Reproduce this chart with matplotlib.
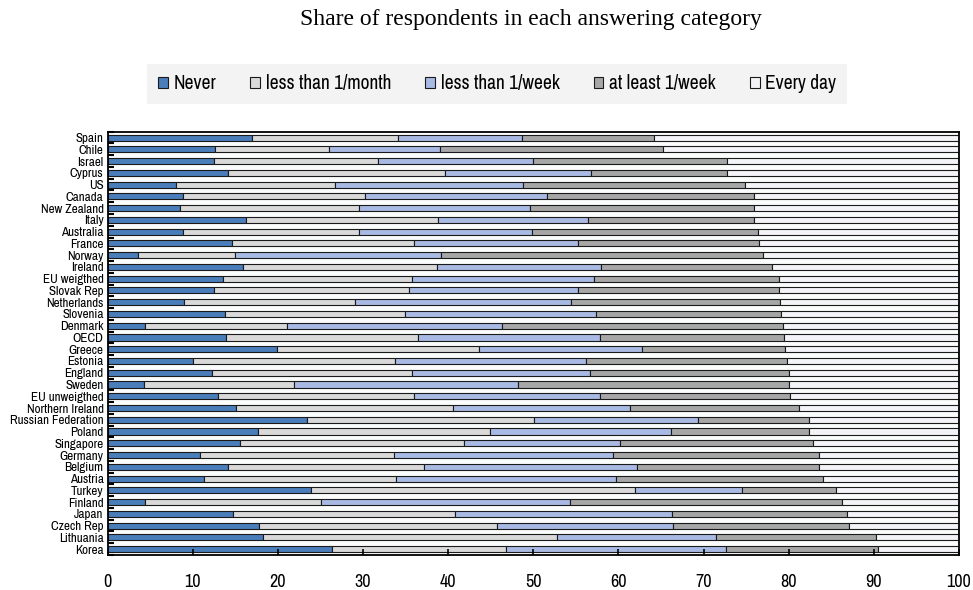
import numpy as np
import matplotlib
matplotlib.use('Agg')
from matplotlib import pyplot as plt

# countries, top to bottom as in the chart
countries = ['Spain', 'Chile', 'Israel', 'Cyprus', 'US', 'Canada', 'New Zealand', 'Italy',
             'Australia', 'France', 'Norway', 'Ireland', 'EU weigthed', 'Slovak Rep',
             'Netherlands', 'Slovenia', 'Denmark', 'OECD', 'Greece', 'Estonia', 'England',
             'Sweden', 'EU unweigthed', 'Northern Ireland', 'Russian Federation', 'Poland',
             'Singapore', 'Germany', 'Belgium', 'Austria', 'Turkey', 'Finland', 'Japan',
             'Czech Rep', 'Lithuania', 'Korea']

# share of respondents (%) in each answering category
never = [17.0, 12.6, 12.5, 14.1, 8.0, 8.9, 8.5, 16.3, 8.9, 14.6, 3.5, 15.9, 13.5, 12.5,
         9.0, 13.8, 4.4, 13.9, 19.9, 10.0, 12.3, 4.3, 13.0, 15.1, 23.4, 17.6, 15.5, 10.8,
         14.1, 11.3, 23.9, 4.4, 14.7, 17.8, 18.2, 26.4]
lt_month = [17.1, 13.4, 19.3, 25.5, 18.7, 21.3, 21.0, 22.5, 20.6, 21.4, 11.4, 22.8, 22.3,
            22.9, 20.0, 21.1, 16.7, 22.5, 23.7, 23.8, 23.5, 17.6, 23.0, 25.5, 26.7, 27.3,
            26.4, 22.8, 23.1, 22.6, 38.0, 20.7, 26.1, 27.9, 34.6, 20.4]
lt_week = [14.6, 13.0, 18.2, 17.2, 22.1, 21.4, 20.1, 17.6, 20.3, 19.2, 24.2, 19.3, 21.3,
           19.8, 25.4, 22.5, 25.2, 21.4, 19.2, 22.4, 20.9, 26.3, 21.8, 20.8, 19.3, 21.3,
           18.3, 25.7, 25.0, 25.8, 12.6, 29.2, 25.5, 20.7, 18.6, 25.8]
atleast_week = [15.5, 26.2, 22.7, 15.9, 26.1, 24.3, 26.3, 19.5, 26.6, 21.3, 37.9, 20.0, 21.7,
                23.7, 24.6, 21.7, 33.0, 21.7, 16.8, 23.6, 23.3, 31.8, 22.3, 19.8, 13.0, 16.2,
                22.6, 24.2, 21.3, 24.3, 11.0, 31.9, 20.5, 20.7, 18.8, 17.9]
every_day = [35.8, 34.8, 27.3, 27.3, 25.1, 24.1, 24.1, 24.1, 23.6, 23.5, 23.0, 22.0, 21.2,
             21.1, 21.0, 20.9, 20.7, 20.5, 20.4, 20.2, 20.0, 20.0, 19.9, 18.8, 17.6, 17.6,
             17.2, 16.5, 16.5, 16.0, 14.5, 13.8, 13.2, 12.9, 9.8, 9.5]

series_names = ['Never', 'less than 1/month', 'less than 1/week', 'at least 1/week', 'Every day']
colors = ['#4a7ebb', '#d9d9d9', '#a8b9e3', '#a6a6a6', '#f3f3f8']

# narrow sans like the original, missing families are skipped
plt.rcParams['font.family'] = ['Liberation Sans Narrow', 'Arial Narrow', 'Archivo Narrow',
                               'Roboto Condensed', 'Liberation Sans', 'DejaVu Sans']

fig = plt.figure(figsize=(9.73, 5.90), dpi=100)
ax = fig.add_axes([0.1107, 0.0593, 0.8749, 0.7175])
ax.set_facecolor('#fbfdfd')

y = np.arange(len(countries))
left = np.zeros(len(countries))
handles = []
for vals, name, col in zip([never, lt_month, lt_week, atleast_week, every_day], series_names, colors):
    vals = np.array(vals)
    b = ax.barh(y, vals, left=left, height=0.52, color=col, edgecolor='#1a1a1a',
                linewidth=0.8, label=name)
    left = left + vals
    handles.append(b)

ax.set_xlim(0, 100)
ax.set_ylim(len(countries) - 0.5, -0.5)
ax.set_xticks(np.arange(0, 101, 10))
ax.tick_params(axis='x', direction='in', length=4, width=1.2, labelsize=13, pad=14)
ax.set_yticks(y)
ax.set_yticklabels(countries)
ax.tick_params(axis='y', which='major', length=0, labelsize=9.4, pad=3)
# small marks between the categories
ax.set_yticks(np.arange(-0.5, len(countries), 1), minor=True)
ax.tick_params(axis='y', which='minor', direction='in', length=4, width=1.5)
for s in ax.spines.values():
    s.set_linewidth(1.3)
    s.set_color('black')

fig.text(0.546, 0.967, 'Share of respondents in each answering category',
         family='Liberation Serif', fontsize=17, ha='center', va='center')

leg = fig.legend(handles=handles, labels=series_names, loc='center',
                 bbox_to_anchor=(0.511, 0.858), ncol=5, fontsize=14,
                 frameon=True, fancybox=False, handlelength=0.5, handleheight=0.5,
                 handletextpad=0.3, columnspacing=1.75, borderpad=0.55, borderaxespad=0)
leg.get_frame().set_facecolor('#f0f0f0')
leg.get_frame().set_edgecolor('none')

fig.savefig('out.png', dpi=100)
